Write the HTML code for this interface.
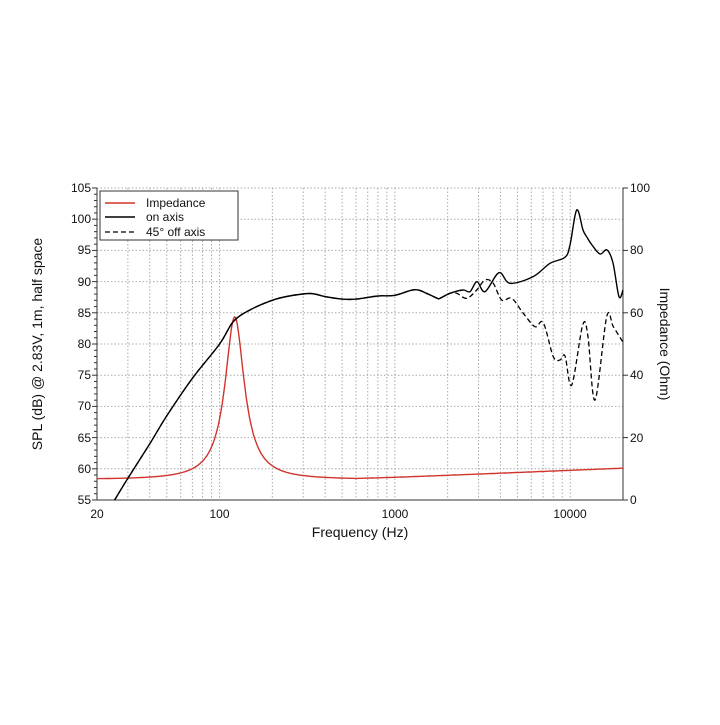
<!DOCTYPE html>
<html><head><meta charset="utf-8"><style>
body{margin:0;background:#fff;}
svg text{font-family:"Liberation Sans",Arial,sans-serif;fill:#111;}
</style></head><body>
<svg id="s" width="720" height="720" xmlns="http://www.w3.org/2000/svg">
<g id="grid" stroke="#aaa" stroke-width="1" stroke-dasharray="1.5,2"></g>
<g id="axes"></g>
<path id="imp" fill="none" stroke="#d0342c" stroke-width="1.4"/>
<path id="off" fill="none" stroke="#000" stroke-width="1.3" stroke-dasharray="5,3"/>
<path id="on" fill="none" stroke="#000" stroke-width="1.4"/>
<g font-size="12">
<text x="91" y="192" text-anchor="end">105</text>
<text x="91" y="223" text-anchor="end">100</text>
<text x="91" y="254" text-anchor="end">95</text>
<text x="91" y="286" text-anchor="end">90</text>
<text x="91" y="317" text-anchor="end">85</text>
<text x="91" y="348" text-anchor="end">80</text>
<text x="91" y="379" text-anchor="end">75</text>
<text x="91" y="410" text-anchor="end">70</text>
<text x="91" y="442" text-anchor="end">65</text>
<text x="91" y="473" text-anchor="end">60</text>
<text x="91" y="504" text-anchor="end">55</text>
<text x="630" y="192">100</text>
<text x="630" y="254">80</text>
<text x="630" y="317">60</text>
<text x="630" y="379">40</text>
<text x="630" y="442">20</text>
<text x="630" y="504">0</text>
<text x="97" y="518" text-anchor="middle">20</text>
<text x="219.5" y="518" text-anchor="middle">100</text>
<text x="395" y="518" text-anchor="middle">1000</text>
<text x="570" y="518" text-anchor="middle">10000</text>
</g>
<text x="360" y="537" font-size="14" text-anchor="middle">Frequency (Hz)</text>
<text transform="translate(42,344) rotate(-90)" font-size="14" text-anchor="middle">SPL (dB) @ 2.83V, 1m, half space</text>
<text transform="translate(660,344) rotate(90)" font-size="14" text-anchor="middle">Impedance (Ohm)</text>
<rect x="100" y="191" width="138" height="49" fill="#fff" stroke="#333" stroke-width="1"/>
<line x1="105" y1="203" x2="135" y2="203" stroke="#d0342c" stroke-width="1.4"/>
<line x1="105" y1="217" x2="135" y2="217" stroke="#000" stroke-width="1.4"/>
<line x1="105" y1="232" x2="135" y2="232" stroke="#000" stroke-width="1.3" stroke-dasharray="5,3"/>
<g font-size="12"><text x="146" y="207">Impedance</text><text x="146" y="221">on axis</text><text x="146" y="236">45° off axis</text></g>
</svg>
<script>
var L=97,R=623,T=188,B=500,D=175.33;
function fx(f){return L+Math.log10(f/20)*D;}
function dy(d){return T+(105-d)*6.24;}
var g=document.getElementById('grid'),h='';
for(var d=55;d<=105;d+=5){h+='<line x1="'+L+'" x2="'+R+'" y1="'+dy(d)+'" y2="'+dy(d)+'"/>';}
[1,10,100,1000].forEach(function(m){for(var k=1;k<10;k++){var f=k*10*m;if(f<20||f>20000)continue;var x=fx(f);h+='<line x1="'+x+'" x2="'+x+'" y1="'+T+'" y2="'+B+'"/>';}});
g.innerHTML=h;
var a='<g stroke="#333" stroke-width="1"><line x1="'+L+'" y1="'+T+'" x2="'+L+'" y2="'+B+'"/><line x1="'+L+'" y1="'+B+'" x2="'+R+'" y2="'+B+'"/><line x1="'+R+'" y1="'+T+'" x2="'+R+'" y2="'+B+'"/>';
for(var d=55;d<=105;d++){var y=dy(d);a+='<line x1="'+(L-(d%5?3:5))+'" x2="'+L+'" y1="'+y+'" y2="'+y+'"/>';}
for(var o=0;o<=100;o+=20){var y=B-o*3.12;a+='<line x1="'+R+'" x2="'+(R+5)+'" y1="'+y+'" y2="'+y+'"/>';}
a+='</g>';document.getElementById('axes').innerHTML=a;
function cr(p){var s='M'+p[0][0]+','+p[0][1];for(var i=0;i<p.length-1;i++){var p0=p[i-1]||p[i],p1=p[i],p2=p[i+1],p3=p[i+2]||p2;
s+=' C'+(p1[0]+(p2[0]-p0[0])/6).toFixed(1)+','+(p1[1]+(p2[1]-p0[1])/6).toFixed(1)+' '+(p2[0]-(p3[0]-p1[0])/6).toFixed(1)+','+(p2[1]-(p3[1]-p1[1])/6).toFixed(1)+' '+p2[0]+','+p2[1];}return s;}
var low=[[25.2,55],[30,58.5],[40,64],[50,68.5],[70,74.5],[100,80],[120,83.6],[150,85.5],[200,87],[250,87.7],[330,88.1],[400,87.6],[500,87.2],[600,87.2],[800,87.7],[1000,87.8],[1300,88.7],[1550,88],[1750,87.3]].map(function(q){return [+fx(q[0]).toFixed(1),+dy(q[1]).toFixed(1)];});
var on=low.concat([[440,298.3],[450,293.3],[463,290],[470,291.7],[477,281.7],[485,291.7],[499,272.7],[510,283.3],[533,276.7],[550,263.3],[565,257.3],[570,245],[576.7,210],[583,230],[587,237.3],[592,245],[600,254],[607,250],[613,263],[619,296.7],[623,290]]);
var off=low.concat([[440,298.3],[450,293.3],[456.7,293.3],[466.7,298.3],[476.7,290],[485,280],[493,283],[501.7,300],[511.7,298.3],[523.3,313.3],[535,326.7],[543.3,322.7],[553.3,356.7],[560,360],[565,356],[571.7,385],[582.7,325],[588,336.7],[595,400],[606.7,316.7],[613.3,326.7],[622.7,341.7]]);
document.getElementById('on').setAttribute('d',cr(on));
document.getElementById('off').setAttribute('d',cr(off));
var ip=[];for(var i=0;i<=600;i++){var f=20*Math.pow(1000,i/600);var r=f/122-122/f;var z=6.7+52/(1+10.6*r*r)+(f>600?2.3*Math.log10(f/600):0);ip.push((i?'L':'M')+fx(f).toFixed(1)+','+(B-z*3.12).toFixed(1));}
document.getElementById('imp').setAttribute('d',ip.join(''));
</script>
</body></html>
